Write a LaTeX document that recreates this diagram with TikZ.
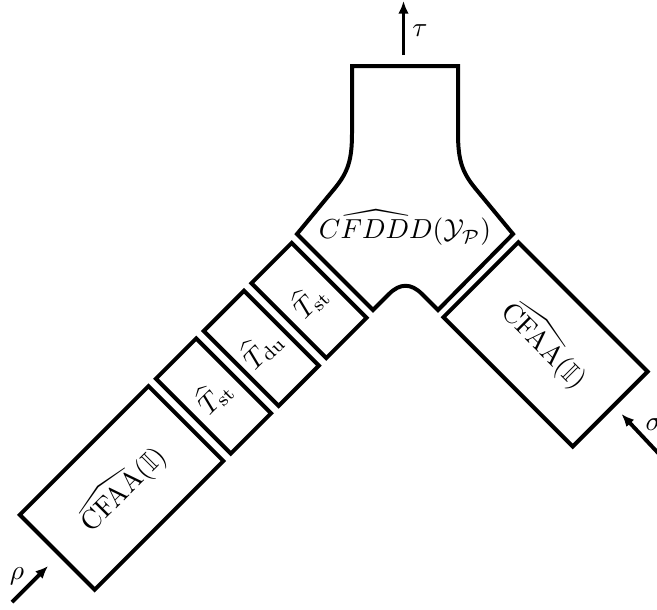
\documentclass[tikz,border=0pt]{standalone}
\usepackage{amsmath,amssymb}
\usetikzlibrary{arrows.meta}
\begin{document}
\begin{tikzpicture}[x=0.3636pt,y=-0.3636pt,
  thickline/.style={line width=1.45pt},
  blk/.style={draw,thickline,inner sep=0pt,outer sep=0pt},
  arr/.style={line width=1.4pt,-{Latex[length=4.6pt,width=3.9pt]}},
  lbl/.style={inner sep=0pt}]
\useasboundingbox (0,0) rectangle (657,609);
% left chain
\node[blk,rotate=45,minimum width=66.2pt,minimum height=38.5pt] (cfaaL) at (121.6,487.9) {$\widehat{\mathrm{CFAA}}(\mathbb{I})$};
\node[blk,rotate=45,minimum width=20.7pt,minimum height=38.5pt] (tst1) at (213.5,396.0) {$\widehat{T}_{\mathrm{st}}$};
\node[blk,rotate=45,minimum width=20.7pt,minimum height=38.5pt] (tdu) at (261.3,348.3) {$\widehat{T}_{\mathrm{du}}$};
\node[blk,rotate=45,minimum width=20.7pt,minimum height=38.5pt] (tst2) at (309.0,300.5) {$\widehat{T}_{\mathrm{st}}$};
% right box
\node[blk,rotate=-45,minimum width=66.5pt,minimum height=38.5pt] (cfaaR) at (545.5,344.4) {$\widehat{\mathrm{CFAA}}(\mathbb{I})$};
% Y-shaped block
\draw[thickline] (352,66) -- (458,66) -- (458,133)
  .. controls (458,160) and (462,172) .. (475,188) -- (513,234) -- (438,310)
  -- (422,294) .. controls (411,283) and (400,283) .. (389,294) -- (373,310)
  -- (297,234) -- (335,188) .. controls (348,172) and (352,160) .. (352,133) -- cycle;
\node[lbl] (cfddd) at (405,228) {$\widehat{CFDDD}(\mathcal{Y}_{\mathcal{P}})$};
% arrows
\coordinate (tauS) at (403.5,55);
\coordinate (tauE) at (403.5,1);
\draw[arr] (tauS) -- (tauE);
\node[lbl] (tau) at (420,31) {$\tau$};
\coordinate (rhoS) at (12,602);
\coordinate (rhoE) at (48,566);
\draw[arr] (rhoS) -- (rhoE);
\node[lbl] (rho) at (17,576) {$\rho$};
\coordinate (sigS) at (660,455);
\coordinate (sigE) at (621.5,414);
\draw[arr] (sigS) -- (sigE);
\node[lbl] (sig) at (654,425) {$\sigma$};
\end{tikzpicture}
\end{document}
